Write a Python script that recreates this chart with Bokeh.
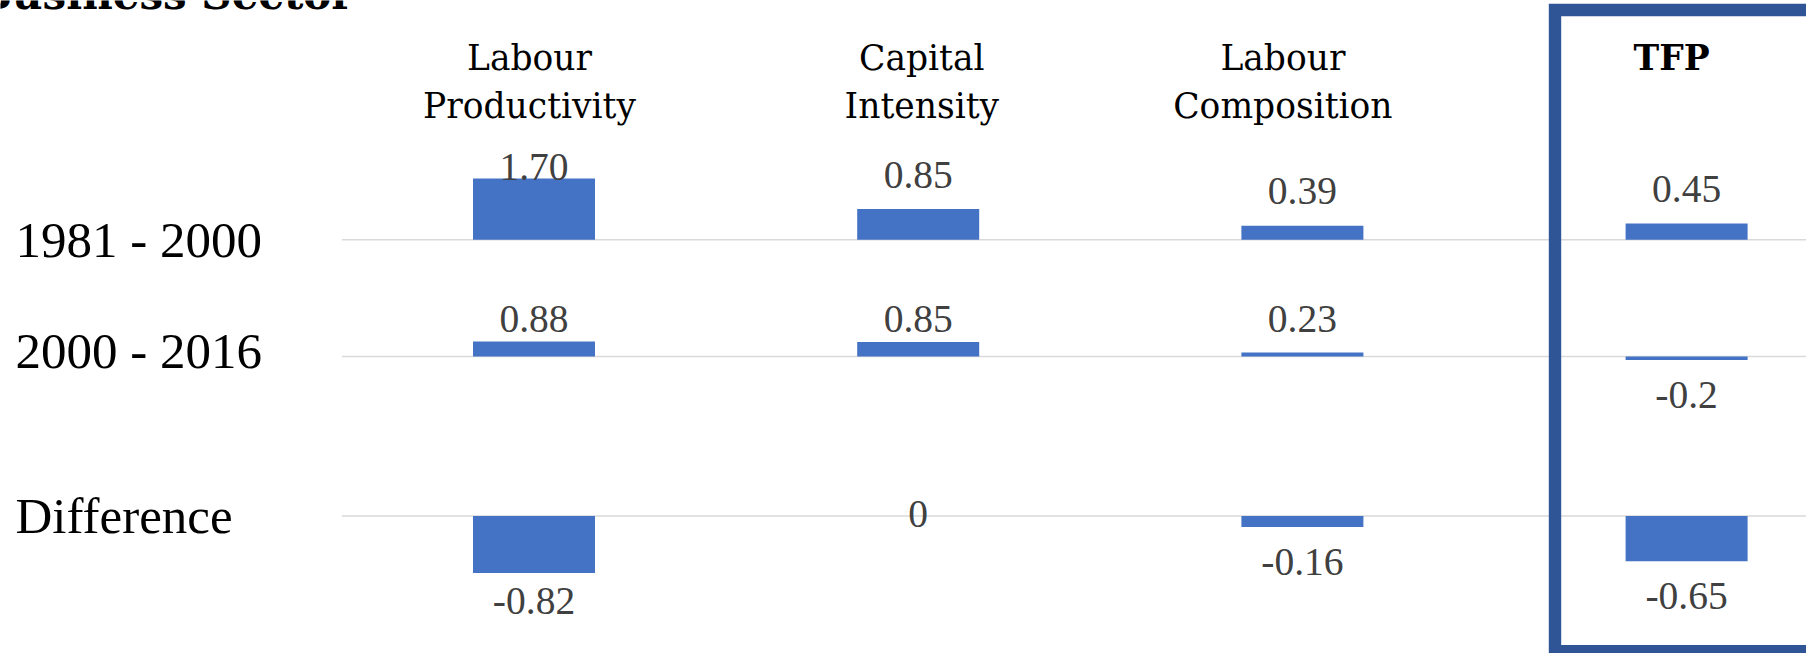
from bokeh.plotting import figure
from bokeh.models import Range1d, ColumnDataSource
from bokeh.core.properties import value
from bokeh.embed import file_html
from bokeh.resources import INLINE

# ---------------- data ----------------
title_text = "Business Sector"
categories = ["Labour\nProductivity", "Capital\nIntensity", "Labour\nComposition", "TFP"]
periods = ["1981 - 2000", "2000 - 2016", "Difference"]
values_1981_2000 = [1.70, 0.85, 0.39, 0.45]
values_2000_2016 = [0.88, 0.85, 0.23, -0.20]
values_difference = [-0.82, 0.0, -0.16, -0.65]
labels_1981_2000 = ["1.70", "0.85", "0.39", "0.45"]
labels_2000_2016 = ["0.88", "0.85", "0.23", "-0.2"]
labels_difference = ["-0.82", "0", "-0.16", "-0.65"]
highlighted = "TFP"

row_values = [values_1981_2000, values_2000_2016, values_difference]
row_labels = [labels_1981_2000, labels_2000_2016, labels_difference]

# ---------------- layout (pixel geometry of the reference) ----------------
W, H = 1806, 653
COL0, COL_STEP, BAR_PX = 533.5, 384.2, 122.0
ROW_ZERO = [239.2, 356.0, 515.5]     # zero line of each small chart
ROW_K = [36.0, 17.0, 69.5]           # pixels per unit of each small chart
LAB_TOP = [181.7, 334.3, None]       # highest label baseline allowed
LAB_BOT = [None, None, 615.7]        # lowest label baseline allowed
POS_GAP, NEG_GAP, ZERO_GAP = 19.0, 50.7, 13.3
ROW_LABEL_BASE = [259.0, 370.5, 535.5]
HEADER_DX = [-4.5, 3.6, -19.5, -15.0]
HEADER_Y = [70.5, 119.3]
BOX_X, BOX_TOP, BOX_BOTTOM, BOX_LW = 1554.5, 9.5, 650.8, 12.4
SHIFT = 0.39                         # baseline correction (em) for the svg text

LABEL_FS, ROW_FS, HEAD_FS, TITLE_FS = 39.5, 51.0, 34.5, 42.0

BAR_COLOR = "#4472C4"
GRID_COLOR = "#D9D9D9"
BOX_COLOR = "#2F5597"
LABEL_COLOR = "#404040"
SERIF = "Liberation Serif"
HEAD_FONT = "DejaVu Serif"

p = figure(width=W, height=H, x_range=Range1d(0, W), y_range=Range1d(H, 0),
           output_backend="svg", toolbar_location=None, min_border=0,
           x_axis_location=None, y_axis_location=None, outline_line_color=None)
p.xgrid.visible = False
p.ygrid.visible = False
p.background_fill_color = "white"
p.border_fill_color = "white"

p.extra_x_ranges = {"cols": Range1d((0 - COL0) / COL_STEP, (W - COL0) / COL_STEP)}
for r, (z, k) in enumerate(zip(ROW_ZERO, ROW_K)):
    p.extra_y_ranges[f"row{r}"] = Range1d((z - H) / k, z / k)

xs = list(range(len(categories)))

for r, (vals, labs) in enumerate(zip(row_values, row_labels)):
    k = ROW_K[r]
    z = ROW_ZERO[r]
    yr = f"row{r}"
    # zero / gridline
    p.segment(x0=[-0.5], y0=[0], x1=[20], y1=[0], x_range_name="cols", y_range_name=yr,
              line_color=GRID_COLOR, line_width=1.6)
    src = ColumnDataSource(dict(x=xs, v=vals))
    p.vbar(x="x", top="v", bottom=0, width=BAR_PX / COL_STEP, source=src,
           x_range_name="cols", y_range_name=yr, fill_color=BAR_COLOR, line_color=None)
    # data labels (outside end, kept inside each small chart's plot area)
    ly = []
    for v in vals:
        if v > 0:
            b = z - v * k - POS_GAP
        elif v < 0:
            b = z - v * k + NEG_GAP
        else:
            b = z + ZERO_GAP
        if LAB_TOP[r] is not None:
            b = max(b, LAB_TOP[r])
        if LAB_BOT[r] is not None:
            b = min(b, LAB_BOT[r])
        ly.append((z - (b - SHIFT * LABEL_FS)) / k)
    p.text(x=xs, y=ly, text=labs, x_range_name="cols", y_range_name=yr,
           text_font=value(SERIF), text_font_size=f"{LABEL_FS}px", text_color=LABEL_COLOR,
           text_align="center", text_baseline="alphabetic")
    # row label
    p.text(x=[15], y=[ROW_LABEL_BASE[r] - SHIFT * ROW_FS], text=[periods[r]],
           text_font=value(SERIF), text_font_size=f"{ROW_FS}px", text_color="black",
           text_align="left", text_baseline="alphabetic")

# column headers
for i, cat in enumerate(categories):
    lines = cat.split("\n")
    bold = cat == highlighted
    for j, line in enumerate(lines):
        p.text(x=[i + HEADER_DX[i] / COL_STEP], y=[HEADER_Y[j] - SHIFT * HEAD_FS], text=[line],
               x_range_name="cols",
               text_font=value(HEAD_FONT), text_font_size=f"{HEAD_FS}px",
               text_font_style="bold" if bold else "normal", text_color="black",
               text_align="center", text_baseline="alphabetic")

# highlight box around TFP
p.quad(left=[BOX_X], right=[W + 200], top=[BOX_TOP], bottom=[BOX_BOTTOM],
       fill_color=None, line_color=BOX_COLOR, line_width=BOX_LW, line_join="miter")

# title (cut off at the top, as in the reference)
p.text(x=[-24], y=[10 - SHIFT * TITLE_FS], text=[title_text], text_font=value(HEAD_FONT),
       text_font_size=f"{TITLE_FS}px", text_font_style="bold", text_color="black",
       text_align="left", text_baseline="alphabetic")

open("out.html", "w").write(file_html(p, INLINE))
